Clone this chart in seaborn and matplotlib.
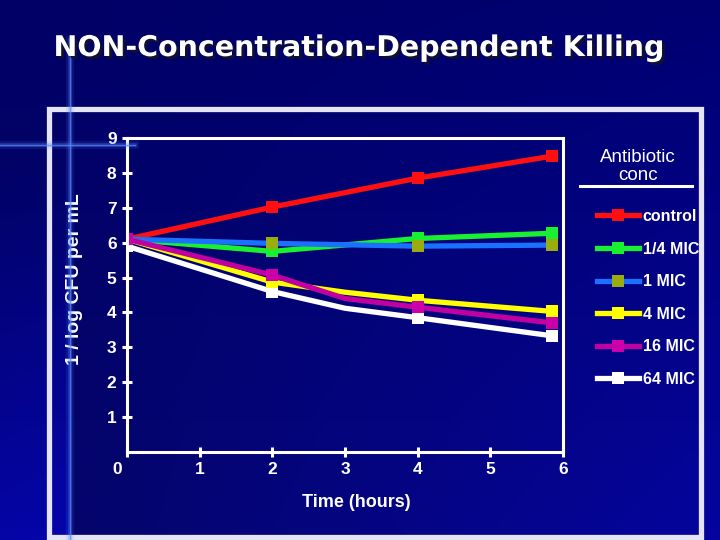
import numpy as np
import pandas as pd
import matplotlib
matplotlib.use("Agg")
import matplotlib.pyplot as plt
import matplotlib.patheffects as pe
import matplotlib.transforms as mtransforms
import seaborn as sns
from matplotlib.lines import Line2D
from matplotlib.patches import Rectangle

# Data
hours = [0, 2, 4, 5.85]
control = [6.1, 7.02, 7.85, 8.48]
quarter_mic = [6.1, 5.75, 6.12, 6.27]
one_mic = [6.1, 5.98, 5.9, 5.93]

hours_kill = [0, 2, 3, 4, 5.85]
four_mic = [6.1, 4.87, 4.58, 4.35, 4.03]
sixteen_mic = [6.1, 5.07, 4.4, 4.15, 3.7]
sixtyfour_mic = [5.9, 4.6, 4.12, 3.85, 3.33]

labels = ["control", "1/4 MIC", "1 MIC", "4 MIC", "16 MIC", "64 MIC"]
line_colors = ["#ff1010", "#18f030", "#1a70ff", "#ffff00", "#c000a0", "#ffffff"]
marker_colors = ["#ff1010", "#18f030", "#99ad10", "#ffff00", "#cc00aa", "#ffffff"]

x_ticks = [0, 1, 2, 3, 4, 5, 6]
y_ticks = [1, 2, 3, 4, 5, 6, 7, 8, 9]

W, H = 720, 540
fig = plt.figure(figsize=(7.2, 5.4), dpi=100)

# background gradient (dark navy, brighter toward the lower right)
bg = fig.add_axes([0, 0, 1, 1])
yy, xx = np.mgrid[0:1:270j, 0:1:360j]
blue = 0.40 + 0.22 * xx * (0.2 + 0.8 * yy)
left_strip = (xx < 0.095) * np.clip((yy - 0.3) / 0.7, 0, 1) * 0.25
blue = blue + left_strip
img = np.dstack([0.02 * yy, 0.02 * yy, np.clip(blue, 0, 1)])
bg.imshow(img, aspect="auto", extent=[0, 1, 0, 1], origin="upper")
bg.axis("off")


def fx(px):
    return px / W


def fy(py):
    return 1 - py / H


# decorative crosshair lines
for lw, a in [(6, 0.12), (3, 0.25), (1, 0.7)]:
    fig.add_artist(Line2D([fx(70), fx(70)], [fy(40), fy(540)], color="#5a8cff", lw=lw, alpha=a))
    fig.add_artist(Line2D([fx(0), fx(135)], [fy(145), fy(145)], color="#5a8cff", lw=lw, alpha=a))

# light frame around the chart
fig.add_artist(Rectangle((fx(48.5), fy(536.5)), fx(652), (536.5 - 109) / H,
                         fill=False, edgecolor="#e4e4f4", lw=3.8, zorder=1))

# title with drop shadow
fig.text(fx(359), fy(48), "NON-Concentration-Dependent Killing", color="white",
         fontsize=20.5, fontweight="bold", family="DejaVu Sans", ha="center", va="center",
         path_effects=[pe.withSimplePatchShadow(offset=(2, -2), shadow_rgbFace="#101030", alpha=1)])

ax = fig.add_axes([fx(127), fy(452), fx(563) - fx(127), (452 - 138) / H])
ax.patch.set_alpha(0)

df_main = pd.DataFrame({"hours": hours, "control": control,
                        "1/4 MIC": quarter_mic, "1 MIC": one_mic})
df_kill = pd.DataFrame({"hours": hours_kill, "4 MIC": four_mic,
                        "16 MIC": sixteen_mic, "64 MIC": sixtyfour_mic})

common = dict(lw=3.8, marker="s", markersize=9, markeredgewidth=0)
sns.lineplot(data=df_main, x="hours", y="control", ax=ax, color=line_colors[0],
             markerfacecolor=marker_colors[0], **common)
sns.lineplot(data=df_main, x="hours", y="1/4 MIC", ax=ax, color=line_colors[1],
             markerfacecolor=marker_colors[1], **common)
sns.lineplot(data=df_main, x="hours", y="1 MIC", ax=ax, color=line_colors[2],
             markerfacecolor=marker_colors[2], **common)
sns.lineplot(data=df_kill, x="hours", y="64 MIC", ax=ax, color=line_colors[5],
             markerfacecolor=marker_colors[5], markevery=[0, 1, 3, 4], **common)
sns.lineplot(data=df_kill, x="hours", y="4 MIC", ax=ax, color=line_colors[3],
             markerfacecolor=marker_colors[3], markevery=[1, 3, 4], **common)
sns.lineplot(data=df_kill, x="hours", y="16 MIC", ax=ax, color=line_colors[4],
             markerfacecolor=marker_colors[4], markevery=[0, 1, 3, 4], **common)

ax.set_xlim(0, 6)
ax.set_ylim(0, 9)
ax.set_xticks(x_ticks)
ax.set_yticks(y_ticks)
ax.set_xticklabels([str(t) for t in x_ticks])
ax.set_yticklabels([str(t) for t in y_ticks])
for s in ax.spines.values():
    s.set_color("white")
    s.set_linewidth(2.2)
ax.tick_params(colors="white", direction="inout", length=7, width=2.2, pad=4)
for lab in ax.get_xticklabels() + ax.get_yticklabels():
    lab.set_fontfamily("Liberation Sans")
    lab.set_fontweight("bold")
    lab.set_fontsize(12.5)
# the "0" sits left of the origin on the slide
zero = ax.get_xticklabels()[0]
zero.set_transform(zero.get_transform() + mtransforms.ScaledTranslation(-0.1, 0, fig.dpi_scale_trans))
ax.grid(False)

ax.set_xlabel("Time (hours)", color="white", fontsize=13, fontweight="bold",
              family="Liberation Sans")
ax.xaxis.set_label_coords(0.527, -0.135)
ax.set_ylabel("1 / log CFU per mL", color="white", fontsize=14, fontweight="bold",
              family="Liberation Sans")
ax.yaxis.set_label_coords(-0.10, 0.55)

# legend
fig.text(fx(638), fy(158), "Antibiotic", color="white", fontsize=13.5,
         family="Liberation Sans", ha="center", va="center")
fig.text(fx(638), fy(175), "conc", color="white", fontsize=13.5,
         family="Liberation Sans", ha="center", va="center")
fig.add_artist(Line2D([fx(580), fx(692)], [fy(186), fy(186)], color="white", lw=2.2))

handles = [Line2D([], [], color=c, lw=3.8, marker="s", markersize=9,
                  markerfacecolor=m, markeredgewidth=0)
           for c, m in zip(line_colors, marker_colors)]
leg = fig.legend(handles, labels, loc="upper left", bbox_to_anchor=(fx(589), fy(201)),
                 frameon=False, handlelength=2.6, handletextpad=0.25,
                 labelspacing=1.1, borderpad=0,
                 prop={"family": "Liberation Sans", "weight": "bold", "size": 11.5})
for t in leg.get_texts():
    t.set_color("white")

fig.savefig("out.png", dpi=100)
